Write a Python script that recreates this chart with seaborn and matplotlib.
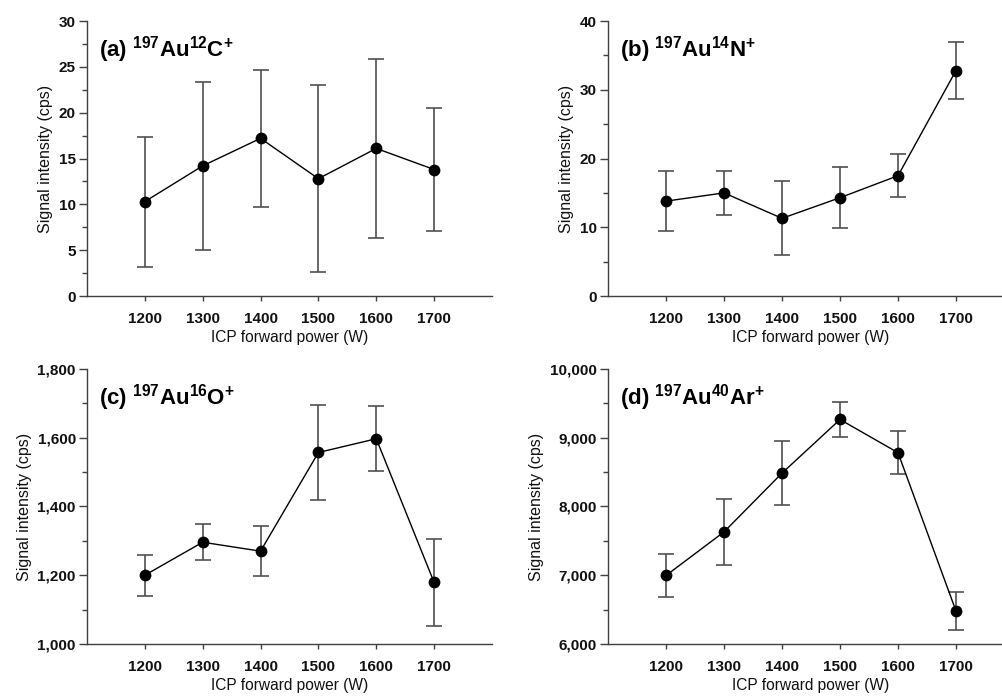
import matplotlib
matplotlib.use("Agg")
import matplotlib.pyplot as plt
from matplotlib.ticker import MultipleLocator, FuncFormatter
from matplotlib import font_manager
import seaborn as sns
import pandas as pd

power = [1200, 1300, 1400, 1500, 1600, 1700]

auc_mean = [10.3, 14.2, 17.2, 12.8, 16.1, 13.8]
auc_sd = [7.1, 9.15, 7.45, 10.2, 9.8, 6.7]

aun_mean = [13.8, 15.0, 11.3, 14.3, 17.5, 32.8]
aun_sd = [4.35, 3.25, 5.4, 4.4, 3.1, 4.2]

auo_mean = [1200, 1296, 1270, 1557, 1597, 1179]
auo_sd = [60, 53, 72, 137, 94, 127]

auar_mean = [6996, 7630, 8485, 9265, 8782, 6478]
auar_sd = [308, 481, 462, 258, 311, 282]

panel_titles = [
    r"(a) $^{\mathbf{197}}$Au$^{\mathbf{12}}$C$^{\mathbf{+}}$",
    r"(b) $^{\mathbf{197}}$Au$^{\mathbf{14}}$N$^{\mathbf{+}}$",
    r"(c) $^{\mathbf{197}}$Au$^{\mathbf{16}}$O$^{\mathbf{+}}$",
    r"(d) $^{\mathbf{197}}$Au$^{\mathbf{40}}$Ar$^{\mathbf{+}}$",
]
y_limits = [(0, 30), (0, 40), (1000, 1800), (6000, 10000)]
y_major = [5, 10, 200, 1000]
y_minor = [2.5, 5, 100, 500]
x_label = "ICP forward power (W)"
y_label = "Signal intensity (cps)"

sns.set_style("ticks")
names = {f.name for f in font_manager.fontManager.ttflist}
fam = "Liberation Sans Narrow" if "Liberation Sans Narrow" in names else "Liberation Sans"
plt.rcParams["font.family"] = [fam, "DejaVu Sans"]
plt.rcParams["mathtext.fontset"] = "custom"
plt.rcParams["mathtext.rm"] = fam + ":bold"
plt.rcParams["mathtext.bf"] = fam + ":bold"
plt.rcParams["mathtext.it"] = fam + ":bold"

fig = plt.figure(figsize=(10.02, 6.98), dpi=100)
positions = [
    [0.0868, 0.5759, 0.4042, 0.3940],
    [0.6068, 0.5759, 0.4052, 0.3940],
    [0.0868, 0.0774, 0.4042, 0.3940],
    [0.6068, 0.0774, 0.4052, 0.3940],
]
means = [auc_mean, aun_mean, auo_mean, auar_mean]
sds = [auc_sd, aun_sd, auo_sd, auar_sd]
axc = "#404040"

for i in range(4):
    ax = fig.add_axes(positions[i])
    df = pd.DataFrame({"power": power, "signal": means[i], "sd": sds[i]})
    ax.errorbar(df["power"], df["signal"], yerr=df["sd"], fmt="none",
                ecolor="#505050", elinewidth=1.2, capsize=6, capthick=1.2, zorder=2)
    sns.lineplot(data=df, x="power", y="signal", ax=ax, color="black",
                 linewidth=1.0, marker="o", markersize=8.5, markeredgewidth=0,
                 zorder=3)
    ax.set_xlim(1100, 1800)
    ax.set_ylim(*y_limits[i])
    ax.set_xticks(power)
    ax.yaxis.set_major_locator(MultipleLocator(y_major[i]))
    ax.yaxis.set_minor_locator(MultipleLocator(y_minor[i]))
    if i >= 2:
        ax.yaxis.set_major_formatter(FuncFormatter(lambda v, p: f"{int(v):,}"))
    else:
        ax.yaxis.set_major_formatter(FuncFormatter(lambda v, p: f"{int(v)}"))
    for s in ["top", "right"]:
        ax.spines[s].set_visible(False)
    for s in ["left", "bottom"]:
        ax.spines[s].set_color(axc)
        ax.spines[s].set_linewidth(1.0)
    ax.tick_params(axis="y", which="major", length=6, width=1.0, color=axc, pad=2)
    ax.tick_params(axis="y", which="minor", length=3.5, width=1.0, color=axc)
    ax.tick_params(axis="x", which="major", length=3.5, width=1.0, color=axc, pad=8)
    for lab in ax.get_xticklabels() + ax.get_yticklabels():
        lab.set_fontweight("bold")
        lab.set_fontsize(11)
        lab.set_color("#111111")
    ax.set_xlabel(x_label, fontsize=11.2, color="#111111", labelpad=3)
    ax.set_ylabel(y_label, fontsize=11.5, color="#111111", labelpad=4)
    ax.text(0.03, 0.895, panel_titles[i], transform=ax.transAxes,
            fontsize=16, fontweight="bold", color="black", va="center", ha="left")

fig.savefig("out.png", dpi=100)
